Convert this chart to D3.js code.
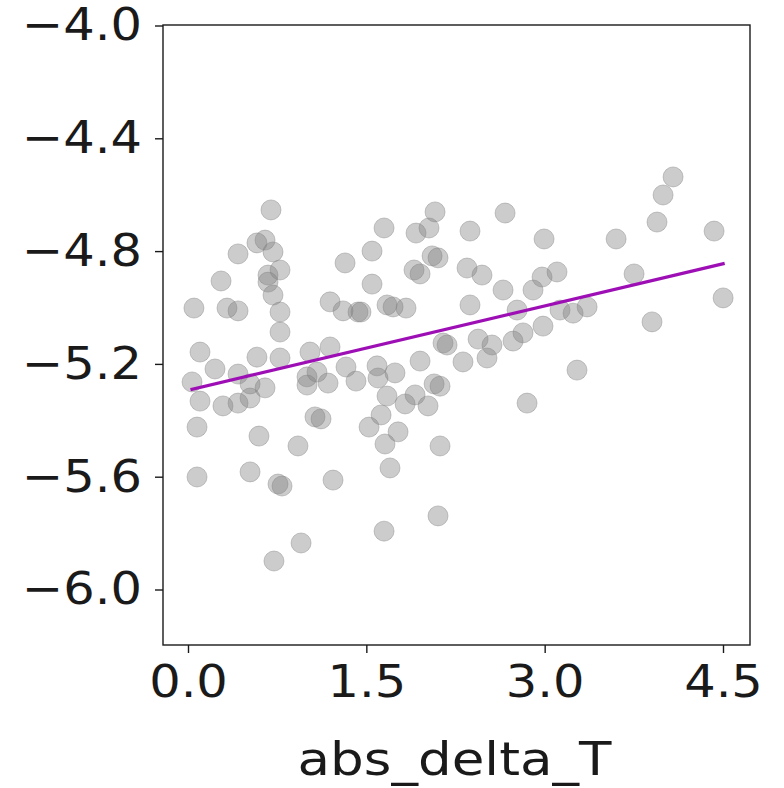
<!DOCTYPE html>
<html>
<head>
<meta charset="utf-8">
<script src="https://cdn.jsdelivr.net/npm/d3@7"></script>
<style>
  html, body { margin: 0; padding: 0; background: #ffffff; }
  svg { display: block; }
  text { font-family: "DejaVu Sans", sans-serif; fill: #1a1a1a; }
</style>
</head>
<body>
<svg id="chart" width="784" height="788"></svg>
<script>
// Observations: absolute temperature change vs. response
const absDeltaT = [
  0.698, 0.580, 0.648, 0.715, 0.421, 0.774, 0.673, 0.673, 0.278, 1.321,
  0.715, 0.050, 0.328, 0.421, 1.195, 1.304, 1.430, 0.774, 0.774, 0.101,
  0.580, 0.774, 1.026, 1.195, 0.227, 0.034, 0.101, 0.294, 0.421, 0.522,
  0.648, 1.001, 1.001, 1.085, 1.178, 1.329, 1.413, 1.590, 1.598, 1.741,
  1.952, 2.179, 2.313, 1.674, 1.826, 1.910, 2.070, 2.120, 2.019, 1.624,
  1.523, 1.767, 1.657, 2.120, 1.699, 0.076, 0.597, 1.068, 1.119, 0.925,
  0.076, 0.522, 0.757, 0.791, 1.220, 0.951, 0.723, 2.103, 1.649, 2.852,
  2.078, 2.667, 1.649, 1.918, 2.027, 2.372, 2.995, 1.548, 2.053, 2.103,
  1.901, 1.952, 2.347, 2.473, 1.548, 2.650, 2.902, 2.978, 3.104, 1.455,
  1.674, 1.725, 1.834, 2.372, 2.768, 2.986, 2.818, 2.734, 2.145, 2.440,
  2.557, 2.515, 4.080, 3.996, 3.945, 4.425, 3.601, 3.752, 4.501, 3.903,
  3.129, 3.239, 3.357, 3.272, 0.421, 0.522
];
const response = [
  -4.654, -4.771, -4.761, -4.803, -4.810, -4.867, -4.885, -4.910, -4.906, -4.842,
  -4.956, -5.002, -5.002, -5.012, -4.980, -5.012, -5.016, -5.016, -5.087, -5.158,
  -5.176, -5.179, -5.158, -5.140, -5.218, -5.264, -5.332, -5.349, -5.339, -5.321,
  -5.285, -5.246, -5.275, -5.229, -5.268, -5.211, -5.261, -5.207, -5.250, -5.232,
  -5.190, -5.133, -5.193, -5.314, -5.342, -5.310, -5.271, -5.279, -5.349, -5.381,
  -5.424, -5.441, -5.484, -5.491, -5.569, -5.424, -5.456, -5.388, -5.395, -5.491,
  -5.601, -5.583, -5.626, -5.633, -5.612, -5.835, -5.899, -5.739, -5.793, -5.339,
  -4.661, -4.665, -4.718, -4.736, -4.718, -4.729, -4.757, -4.800, -4.817, -4.824,
  -4.867, -4.881, -4.860, -4.885, -4.917, -4.938, -4.938, -4.892, -4.874, -5.016,
  -4.991, -4.998, -5.002, -4.991, -5.009, -5.066, -5.090, -5.119, -5.126, -5.112,
  -5.133, -5.179, -4.537, -4.601, -4.697, -4.729, -4.757, -4.881, -4.966, -5.051,
  -5.009, -5.020, -4.998, -5.222, -5.236, -5.271
];

// Least-squares fit line, drawn across the observed range
const fitX = [0.034, 4.501];
const fitY = [-5.290, -4.845];

const xTicks = [0.0, 1.5, 3.0, 4.5];
const yTicks = [-4.0, -4.4, -4.8, -5.2, -5.6, -6.0];
const xLabel = "abs_delta_T";

const svg = d3.select("#chart");
const plot = { left: 163, right: 750, top: 25, bottom: 645 };
const fontSize = 45;

const x = d3.scaleLinear().domain([0, 4.5]).range([188, 723]);
const y = d3.scaleLinear().domain([-4.0, -6.0]).range([25.5, 589.5]);

const fmt = d => d3.format(".1f")(d).replace("-", "\u2212");

// glyphs are drawn slightly wide
function stretch(sel, widen) {
  sel.each(function () {
    const w = this.getComputedTextLength();
    d3.select(this).attr("textLength", w * widen).attr("lengthAdjust", "spacingAndGlyphs");
  });
}

// points
const g = svg.append("g");
g.selectAll("circle")
  .data(d3.range(absDeltaT.length))
  .join("circle")
  .attr("cx", i => x(absDeltaT[i]))
  .attr("cy", i => y(response[i]))
  .attr("r", 10)
  .attr("fill", "rgba(128,128,128,0.4)")
  .attr("stroke", "rgba(128,128,128,0.4)")
  .attr("stroke-width", 1);

// fit line
svg.append("path")
  .datum(fitX.map((v, i) => [v, fitY[i]]))
  .attr("d", d3.line().x(d => x(d[0])).y(d => y(d[1])))
  .attr("fill", "none")
  .attr("stroke", "#9d0fb5")
  .attr("stroke-width", 3.2)
  .attr("stroke-linecap", "square");

// frame
svg.append("rect")
  .attr("x", plot.left).attr("y", plot.top)
  .attr("width", plot.right - plot.left)
  .attr("height", plot.bottom - plot.top)
  .attr("fill", "none")
  .attr("stroke", "#1a1a1a")
  .attr("stroke-width", 1.4);

// x axis
const xAxis = d3.axisBottom(x).tickValues(xTicks).tickFormat(fmt)
  .tickSizeInner(8).tickSizeOuter(0).tickPadding(12);
const gx = svg.append("g").attr("transform", `translate(0,${plot.bottom})`).call(xAxis);
gx.select(".domain").remove();
gx.selectAll("line").attr("stroke", "#1a1a1a").attr("stroke-width", 1.4);
gx.selectAll("text").attr("font-size", fontSize).attr("fill", "#1a1a1a")
  .style("font-family", "DejaVu Sans, sans-serif").call(stretch, 1.1);

// y axis
const yAxis = d3.axisLeft(y).tickValues(yTicks).tickFormat(fmt)
  .tickSizeInner(8).tickSizeOuter(0).tickPadding(13);
const gy = svg.append("g").attr("transform", `translate(${plot.left},0)`).call(yAxis);
gy.select(".domain").remove();
gy.selectAll("line").attr("stroke", "#1a1a1a").attr("stroke-width", 1.4);
gy.selectAll("text").attr("font-size", fontSize).attr("fill", "#1a1a1a")
  .style("font-family", "DejaVu Sans, sans-serif").call(stretch, 1.1);

// axis title
svg.append("text")
  .attr("x", (plot.left + plot.right) / 2 - 2)
  .attr("y", 775)
  .attr("text-anchor", "middle")
  .attr("font-size", 47)
  .text(xLabel)
  .call(stretch, 1.13);
</script>
</body>
</html>
